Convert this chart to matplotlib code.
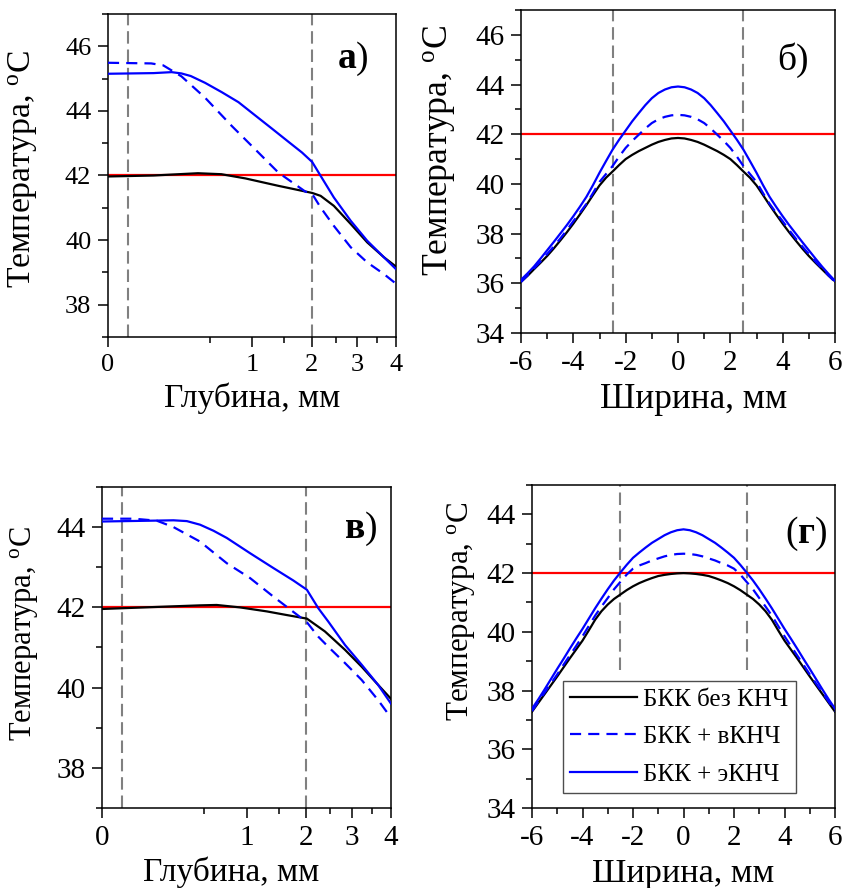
import numpy as np
import matplotlib
matplotlib.use("Agg")
import matplotlib.pyplot as plt
from matplotlib.ticker import FixedLocator, MultipleLocator, FixedFormatter

plt.rcParams['font.family'] = ['Liberation Serif', 'DejaVu Serif']
plt.rcParams['mathtext.fontset'] = 'custom'
plt.rcParams['mathtext.rm'] = 'Liberation Serif'
plt.rcParams['mathtext.bf'] = 'Liberation Serif:bold'
plt.rcParams['mathtext.it'] = 'Liberation Serif:italic'
plt.rcParams['axes.unicode_minus'] = False

# ---------------- data ----------------
THRESHOLD = 42.0                 # hyperthermia threshold, deg C
DEPTH_BOUNDS = [0.02, 2.0]       # tumour boundaries along depth, mm
WIDTH_BOUNDS = [-2.5, 2.5]       # tumour boundaries along width, mm

LEGEND_LABELS = ['БКК без КНЧ', 'БКК + вКНЧ', 'БКК + эКНЧ']

# panel (а): temperature vs depth
depth_a_black = [0, 0.1, 0.2, 0.39, 0.62, 0.91, 1.4, 2.01, 2.18, 2.46, 2.84, 3.24, 3.67, 4.0]
temp_a_black = [41.97, 42.0, 42.03, 42.07, 42.04, 41.91, 41.68, 41.46, 41.37, 41.06, 40.5, 39.93, 39.47, 39.18]
depth_a_vknch = [0, 0.09, 0.147, 0.26, 0.454, 0.74, 1.045, 1.4, 1.88, 2.01, 2.18, 2.46, 2.84, 3.24, 3.67, 4.0]
temp_a_vknch = [45.49, 45.47, 45.41, 45.07, 44.41, 43.53, 42.81, 42.09, 41.5, 41.43, 41.01, 40.44, 39.78, 39.31, 38.95, 38.65]
depth_a_eknch = [0, 0.1, 0.195, 0.26, 0.33, 0.454, 0.624, 0.821, 1.045, 1.297, 1.573, 1.816, 2.01,
                 2.18, 2.46, 2.84, 3.24, 3.67, 4.0]
temp_a_eknch = [45.15, 45.17, 45.2, 45.16, 45.08, 44.87, 44.58, 44.27, 43.86, 43.45, 43.04, 42.71, 42.42,
                41.99, 41.32, 40.6, 39.98, 39.47, 39.1]

# panel (в): temperature vs depth
depth_v_black = [0, 0.2, 0.46, 0.63, 0.91, 1.3, 1.63, 2.01, 2.38, 2.83, 3.23, 3.65, 4.0]
temp_v_black = [41.96, 42.02, 42.05, 42.06, 42.0, 41.9, 41.81, 41.72, 41.4, 40.94, 40.52, 40.07, 39.72]
depth_v_vknch = [0, 0.048, 0.144, 0.245, 0.46, 0.746, 1.05, 1.405, 2.01, 2.24, 2.45, 2.83, 3.23, 3.65, 4.0]
temp_v_vknch = [44.21, 44.21, 44.16, 44.0, 43.64, 43.1, 42.73, 42.27, 41.63, 41.27, 41.02, 40.61, 40.19, 39.69, 39.25]
depth_v_eknch = [0, 0.111, 0.245, 0.345, 0.461, 0.595, 0.746, 1.05, 1.407, 1.753, 2.01,
                 2.24, 2.45, 2.83, 3.23, 3.65, 4.0]
temp_v_eknch = [44.14, 44.16, 44.17, 44.15, 44.06, 43.91, 43.73, 43.35, 42.98, 42.67, 42.44,
                41.98, 41.65, 41.06, 40.57, 40.07, 39.6]

# panels (б) and (г): temperature vs width
width_mm = [-6, -5.75, -5.5, -5.25, -5, -4.75, -4.5, -4.25, -4, -3.75, -3.5, -3.25, -3,
            -2.75, -2.5, -2.25, -2, -1.75, -1.5, -1.25, -1, -0.75, -0.5, -0.25, 0,
            0.25, 0.5, 0.75, 1, 1.25, 1.5, 1.75, 2, 2.25, 2.5, 2.75, 3,
            3.25, 3.5, 3.75, 4, 4.25, 4.5, 4.75, 5, 5.25, 5.5, 5.75, 6]

temp_b_black = [36.06, 36.3, 36.57, 36.83, 37.1, 37.4, 37.72, 38.05, 38.4, 38.77, 39.15, 39.55, 39.94,
                40.25, 40.5, 40.76, 41.0, 41.17, 41.32, 41.45, 41.58, 41.69, 41.77, 41.83, 41.85,
                41.83, 41.77, 41.69, 41.58, 41.45, 41.32, 41.17, 41.0, 40.76, 40.5, 40.25, 39.94,
                39.55, 39.15, 38.77, 38.4, 38.05, 37.72, 37.4, 37.1, 36.83, 36.57, 36.31, 36.08]
temp_b_vknch = [36.05, 36.32, 36.6, 36.88, 37.18, 37.48, 37.8, 38.14, 38.5, 38.84, 39.2, 39.63, 40.08,
                40.4, 40.72, 41.1, 41.45, 41.73, 41.98, 42.23, 42.45, 42.6, 42.7, 42.76, 42.78,
                42.76, 42.7, 42.6, 42.45, 42.23, 41.98, 41.73, 41.45, 41.1, 40.72, 40.4, 40.08,
                39.63, 39.2, 38.84, 38.5, 38.14, 37.8, 37.48, 37.18, 36.88, 36.6, 36.32, 36.05]
temp_b_eknch = [36.14, 36.4, 36.68, 37.0, 37.33, 37.66, 38.0, 38.34, 38.7, 39.08, 39.48, 39.95, 40.45,
                40.92, 41.38, 41.78, 42.15, 42.52, 42.85, 43.17, 43.45, 43.66, 43.8, 43.89, 43.92,
                43.89, 43.8, 43.66, 43.45, 43.17, 42.85, 42.52, 42.15, 41.78, 41.38, 40.92, 40.45,
                39.95, 39.48, 39.08, 38.7, 38.34, 38.0, 37.66, 37.33, 37.0, 36.68, 36.38, 36.1]

temp_g_black = [37.28, 37.58, 37.88, 38.18, 38.48, 38.79, 39.1, 39.4, 39.7, 40.05, 40.41, 40.7, 40.93,
                41.12, 41.27, 41.42, 41.55, 41.66, 41.75, 41.83, 41.9, 41.94, 41.97, 41.99, 42.0,
                41.99, 41.97, 41.94, 41.9, 41.83, 41.75, 41.66, 41.55, 41.42, 41.27, 41.12, 40.93,
                40.7, 40.41, 40.05, 39.7, 39.4, 39.1, 38.79, 38.48, 38.18, 37.88, 37.58, 37.28]
temp_g_vknch = [37.3, 37.62, 37.93, 38.24, 38.55, 38.88, 39.2, 39.52, 39.85, 40.2, 40.55, 40.86, 41.15,
                41.45, 41.7, 41.95, 42.15, 42.26, 42.34, 42.43, 42.5, 42.57, 42.62, 42.65, 42.66,
                42.65, 42.62, 42.57, 42.5, 42.43, 42.34, 42.26, 42.15, 41.95, 41.7, 41.45, 41.15,
                40.86, 40.55, 40.2, 39.85, 39.52, 39.2, 38.88, 38.55, 38.24, 37.93, 37.62, 37.3]
temp_g_eknch = [37.38, 37.7, 38.04, 38.39, 38.74, 39.08, 39.43, 39.77, 40.1, 40.45, 40.8, 41.13, 41.45,
                41.75, 42.02, 42.28, 42.52, 42.7, 42.87, 43.03, 43.16, 43.29, 43.39, 43.46, 43.49,
                43.46, 43.39, 43.29, 43.16, 43.03, 42.87, 42.7, 42.52, 42.28, 42.02, 41.75, 41.45,
                41.13, 40.8, 40.45, 40.1, 39.77, 39.43, 39.08, 38.74, 38.39, 38.04, 37.7, 37.38]

# ---------------- styling ----------------
BLUE = '#0000ff'
RED = '#ff0000'
GRAY = '#808080'
LW = 1.6

fig = plt.figure(figsize=(8.43, 8.88), dpi=100)
W, H = 843.0, 888.0


def add_axes(left, top, right, bottom):
    return fig.add_axes([left / W, 1 - bottom / H, (right - left) / W, (bottom - top) / H])


ax_a = add_axes(108, 14, 396, 337)
ax_b = add_axes(521, 10, 835, 333)
ax_v = add_axes(102, 487, 391, 808)
ax_g = add_axes(532, 485, 835, 808)


def sqrt_fwd(x):
    return np.sqrt(np.clip(x, 0, None))


def sqrt_inv(y):
    return np.square(y)


def style_axes(ax, tick_fs):
    for s in ax.spines.values():
        s.set_linewidth(1.1)
    ax.tick_params(which='major', direction='out', length=7, width=1.1,
                   labelsize=tick_fs, pad=5, top=False, right=False)
    ax.tick_params(which='minor', direction='out', length=4, width=1.1,
                   top=False, right=False)


def draw_series(ax, xs, ys):
    ax.axhline(THRESHOLD, color=RED, lw=LW, zorder=2)
    l0, = ax.plot(xs[0], ys[0], color='black', lw=LW, zorder=3)
    l1, = ax.plot(xs[1], ys[1], color=BLUE, lw=LW, dashes=(5, 3.2), zorder=3)
    l2, = ax.plot(xs[2], ys[2], color=BLUE, lw=LW, zorder=3)
    return [l0, l1, l2]


def depth_panel(ax, xs, ys, ylim, yticks, tick_fs, xlabel_fs, ylabel_fs):
    ax.set_xscale('function', functions=(sqrt_fwd, sqrt_inv))
    ax.set_xlim(0, 4)
    ax.set_ylim(*ylim)
    for xb in DEPTH_BOUNDS:
        ax.axvline(xb, color=GRAY, lw=1.5, dashes=(6, 2.8), zorder=1)
    draw_series(ax, xs, ys)
    ax.xaxis.set_major_locator(FixedLocator([0, 1, 2, 3, 4]))
    ax.xaxis.set_major_formatter(FixedFormatter(['0', '1', '2', '3', '4']))
    ax.xaxis.set_minor_locator(FixedLocator([0.5, 1.5, 2.5, 3.5]))
    ax.yaxis.set_major_locator(FixedLocator(yticks))
    ax.yaxis.set_minor_locator(MultipleLocator(1))
    style_axes(ax, tick_fs)
    ax.set_xlabel('Глубина, мм', fontsize=xlabel_fs)
    ax.set_ylabel('Температура, $^{\\rm o}$C', fontsize=ylabel_fs)


def width_panel(ax, xs, ys, ylim, tick_fs, xlabel_fs, ylabel_fs, vspan):
    ax.set_xlim(-6, 6)
    ax.set_ylim(*ylim)
    ax.vlines(WIDTH_BOUNDS, vspan[0], vspan[1], colors=GRAY, lw=1.5,
              linestyles=(0, (6, 2.8)), zorder=1)
    lines = draw_series(ax, xs, ys)
    ax.xaxis.set_major_locator(MultipleLocator(2))
    ax.xaxis.set_minor_locator(MultipleLocator(1))
    ax.yaxis.set_major_locator(MultipleLocator(2))
    ax.yaxis.set_minor_locator(MultipleLocator(1))
    style_axes(ax, tick_fs)
    ax.set_xlabel('Ширина, мм', fontsize=xlabel_fs)
    ax.set_ylabel('Температура, $^{\\rm o}$C', fontsize=ylabel_fs)
    return lines


depth_panel(ax_a,
            (depth_a_black, depth_a_vknch, depth_a_eknch),
            (temp_a_black, temp_a_vknch, temp_a_eknch),
            (37, 47), [38, 40, 42, 44, 46], 19, 24, 24.3)
width_panel(ax_b, (width_mm,) * 3,
            (temp_b_black, temp_b_vknch, temp_b_eknch),
            (34, 47), 21, 25.3, 25.7, (34, 47))
depth_panel(ax_v,
            (depth_v_black, depth_v_vknch, depth_v_eknch),
            (temp_v_black, temp_v_vknch, temp_v_eknch),
            (37, 45), [38, 40, 42, 44], 21, 24, 22)
lines = width_panel(ax_g, (width_mm,) * 3,
                    (temp_g_black, temp_g_vknch, temp_g_eknch),
                    (34, 45), 21, 24.6, 22.4, (38.7, 45))

# label placement (axes fraction)
ax_a.yaxis.set_label_coords(-0.236, 0.52)
ax_b.yaxis.set_label_coords(-0.204, 0.564)
ax_v.yaxis.set_label_coords(-0.215, 0.545)
ax_g.yaxis.set_label_coords(-0.182, 0.608)
ax_a.xaxis.set_label_coords(0.5, -0.142)
ax_b.xaxis.set_label_coords(0.551, -0.155)
ax_v.xaxis.set_label_coords(0.446, -0.152)
ax_g.xaxis.set_label_coords(0.5, -0.156)

# panel letters
ax_a.text(0.85, 0.86, '$\\mathbf{а}$)', transform=ax_a.transAxes, fontsize=27,
          ha='center', va='center')
ax_b.text(0.865, 0.845, 'б)', transform=ax_b.transAxes, fontsize=27,
          ha='center', va='center')
ax_v.text(0.893, 0.87, '$\\mathbf{в}$)', transform=ax_v.transAxes, fontsize=27,
          ha='center', va='center')
ax_g.text(0.904, 0.85, '($\\mathbf{г}$)', transform=ax_g.transAxes, fontsize=27,
          ha='center', va='center')

leg = ax_g.legend(lines, LEGEND_LABELS, loc='upper left', bbox_to_anchor=(0.102, 0.394),
                  borderaxespad=0, fontsize=18, frameon=True, fancybox=False,
                  framealpha=1, edgecolor='#4d4d4d', handlelength=2.67,
                  handletextpad=0.25, labelspacing=0.6, borderpad=0.3)
leg.get_frame().set_linewidth(1.0)

fig.savefig('out.png', dpi=100)
